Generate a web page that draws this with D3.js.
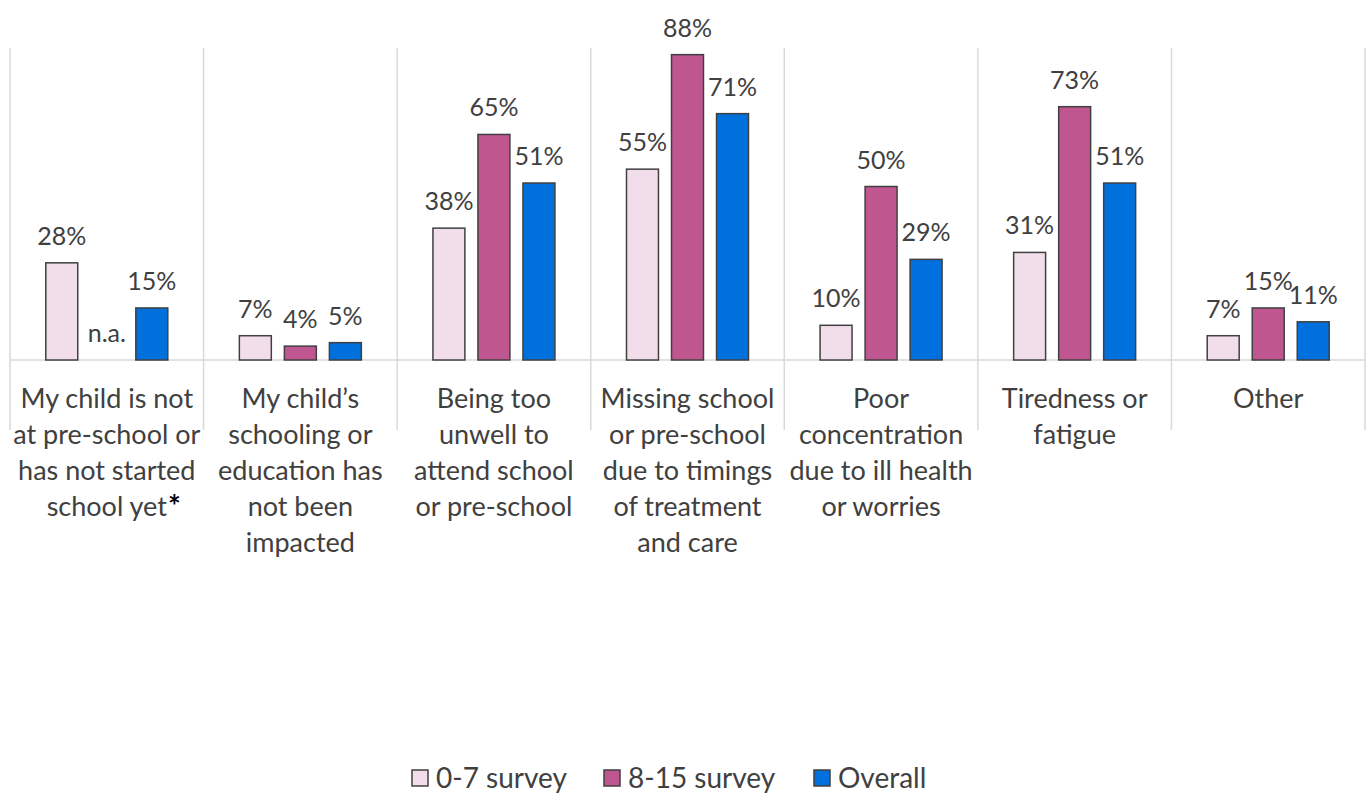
<!DOCTYPE html>
<html>
<head>
<meta charset="utf-8">
<script src="https://cdn.jsdelivr.net/npm/d3@7"></script>
<style>
  body { margin: 0; background: white; }
  svg { font-family: Lato, "Open Sans", sans-serif; }
</style>
</head>
<body>
<svg width="1369" height="795"></svg>
<script>
// categories, one label line per entry
var categories = [
    ["My child is not", "at pre-school or", "has not started", "school yet"],
    ["My child\u2019s", "schooling or", "education has", "not been", "impacted"],
    ["Being too", "unwell to", "attend school", "or pre-school"],
    ["Missing school", "or pre-school", "due to timings", "of treatment", "and care"],
    ["Poor", "concentration", "due to ill health", "or worries"],
    ["Tiredness or", "fatigue"],
    ["Other"]
];
var seriesNames = ["0-7 survey", "8-15 survey", "Overall"];
var survey07 = [0.28, 0.07, 0.38, 0.55, 0.10, 0.31, 0.07];
var survey815 = [null, 0.04, 0.65, 0.88, 0.50, 0.73, 0.15];
var overall = [0.15, 0.05, 0.51, 0.71, 0.29, 0.51, 0.11];
var colors = ["#F2DEEA", "#BF568F", "#0070DD"];

var series = [survey07, survey815, overall];
var data = [];
for (i = 0; i < categories.length; i++) {
    for (j = 0; j < series.length; j++) {
        data.push({cat: i, s: j, v: series[j][i]});
    }
}

var svg = d3.select("svg");
var left = 10, right = 1365, base = 360;

var x0 = d3.scaleBand()
    .domain(d3.range(categories.length))
    .range([left, right])
    .padding(0);

var x1 = d3.scaleBand()
    .domain(d3.range(series.length))
    .range([0, x0.bandwidth()])
    .paddingInner(0.29)
    .paddingOuter(0.795);

var y = d3.scaleLinear()
    .domain([0, 1])
    .range([base, 13]);

// gridlines: category dividers + baseline
svg.selectAll(".divider")
    .data(d3.range(categories.length + 1))
    .enter().append("line")
    .attr("class", "divider")
    .attr("x1", function(d) { return d < categories.length ? x0(d) : right; })
    .attr("x2", function(d) { return d < categories.length ? x0(d) : right; })
    .attr("y1", 48)
    .attr("y2", 430)
    .style("stroke", "#D9D9D9")
    .style("stroke-width", 1.5);

svg.append("line")
    .attr("x1", left).attr("x2", right)
    .attr("y1", base).attr("y2", base)
    .style("stroke", "#D9D9D9")
    .style("stroke-width", 1.5);

var fmt = d3.format(".0%");

svg.selectAll(".bar")
    .data(data.filter(function(d) { return d.v != null; }))
    .enter().append("rect")
    .attr("class", "bar")
    .attr("x", function(d) { return x0(d.cat) + x1(d.s); })
    .attr("y", function(d) { return y(d.v); })
    .attr("width", x1.bandwidth())
    .attr("height", function(d) { return base - y(d.v); })
    .style("fill", function(d) { return colors[d.s]; })
    .style("stroke", "#404040")
    .style("stroke-width", 1.5);

svg.selectAll(".val")
    .data(data)
    .enter().append("text")
    .attr("class", "val")
    .attr("x", function(d) { return x0(d.cat) + x1(d.s) + x1.bandwidth() / 2; })
    .attr("y", function(d) { return d.v == null ? base - 18 : y(d.v) - 18; })
    .attr("text-anchor", "middle")
    .style("font-size", "25px")
    .style("fill", "#404040")
    .text(function(d) { return d.v == null ? "n.a." : fmt(d.v); });

// category labels
var catG = svg.selectAll(".cat")
    .data(categories)
    .enter().append("text")
    .attr("class", "cat")
    .attr("text-anchor", "middle")
    .style("font-size", "27px")
    .style("fill", "#404040");

catG.selectAll("tspan")
    .data(function(d, i) { return d.map(function(t) { return {t: t, i: i}; }); })
    .enter().append("tspan")
    .attr("x", function(d) { return x0(d.i) + x0.bandwidth() / 2; })
    .attr("y", function(d, k) { return 408 + k * 36; })
    .text(function(d) { return d.t; });

// asterisk after "school yet", kept in the same text element
var first = catG.filter(function(d, i) { return i === 0; });
var lines = first.selectAll("tspan").nodes();
var lw = lines[lines.length - 1].getComputedTextLength();
first.append("tspan")
    .attr("x", x0(0) + x0.bandwidth() / 2 + lw / 2 + 1)
    .attr("y", 517)
    .attr("text-anchor", "start")
    .style("font-size", "30px")
    .style("font-weight", "bold")
    .style("fill", "#000")
    .text("*");

// legend
var legX = [412, 604, 814];
var leg = svg.selectAll(".leg")
    .data(seriesNames)
    .enter().append("g")
    .attr("class", "leg")
    .attr("transform", function(d, i) { return "translate(" + legX[i] + ",770)"; });

leg.append("rect")
    .attr("width", 16)
    .attr("height", 16)
    .style("fill", function(d, i) { return colors[i]; })
    .style("stroke", "#404040")
    .style("stroke-width", 1.5);

leg.append("text")
    .attr("x", 24)
    .attr("y", 18)
    .style("font-size", "28px")
    .style("fill", "#404040")
    .text(function(d) { return d; });
</script>
</body>
</html>
